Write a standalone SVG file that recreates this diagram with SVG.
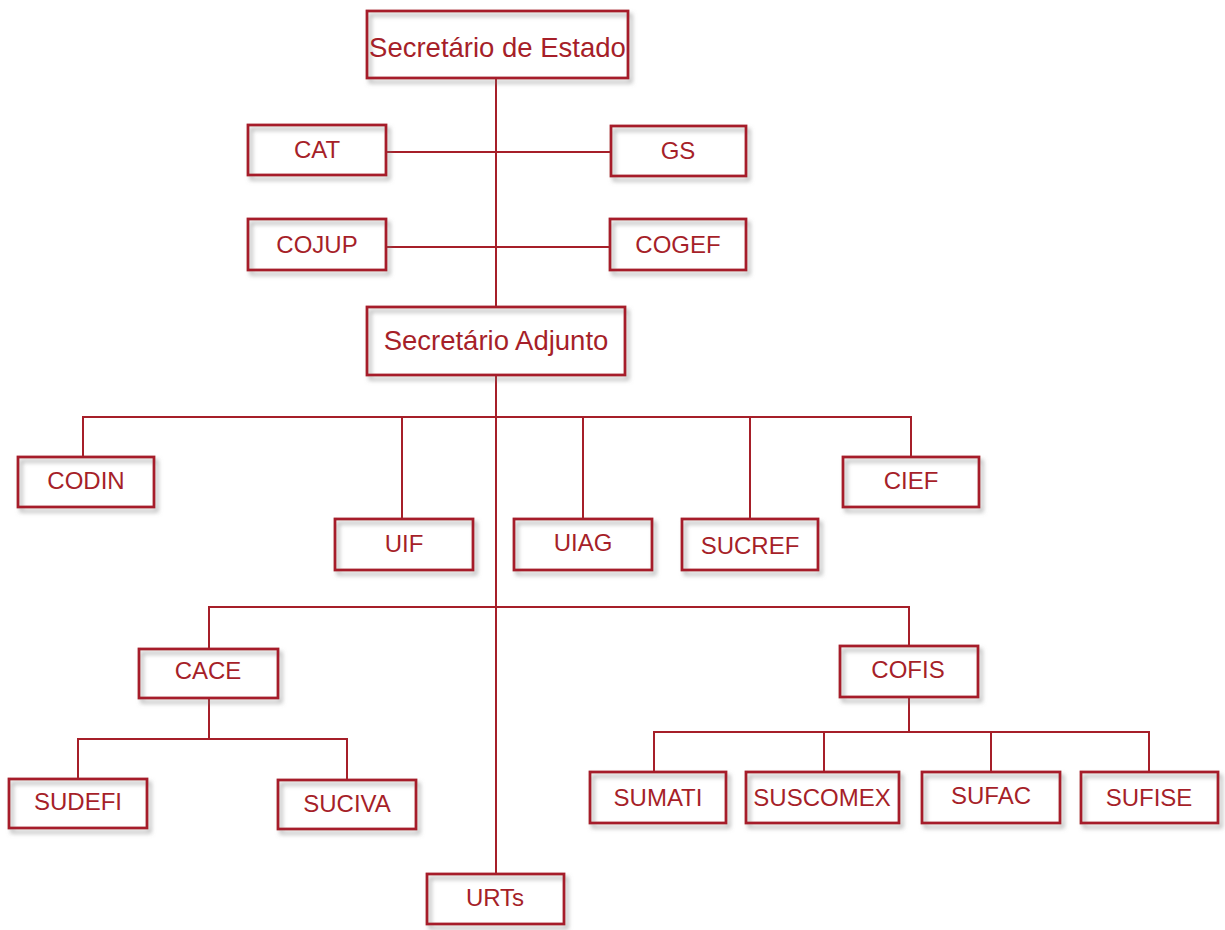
<svg xmlns="http://www.w3.org/2000/svg" width="1225" height="930" viewBox="0 0 1225 930">
<defs>
<filter id="sh" x="-10%" y="-20%" width="125%" height="150%">
<feDropShadow dx="3" dy="4" stdDeviation="2.2" flood-color="#777" flood-opacity="0.55"/>
</filter>
</defs>
<style>
.bg{fill:#fff;stroke:none}
.bx{fill:none;stroke:#a61f29;stroke-width:2.8;filter:url(#sh)}
.t{font-family:"Liberation Sans",Arial,sans-serif;font-size:24px;fill:#a61f29;text-anchor:middle}
.tb{font-size:27.5px}
.c{fill:none;stroke:#a61f29;stroke-width:2}
</style>
<rect width="1225" height="930" fill="#fff"/>
<g id="connectors">
<path class="c" d="M496 78V874"/>
<path class="c" d="M386 152H611M386 247H610"/>
<path class="c" d="M83 457V417H911V457M402 417V519M583 417V519M750 417V519"/>
<path class="c" d="M209 649V607H909V646"/>
<path class="c" d="M209 698V739M78 779V739H347V780"/>
<path class="c" d="M909 697V732M654 772V732H1149V772M824 732V772M991 732V772"/>
</g>
<g id="n-sde"><rect class="bg" x="367" y="11" width="261" height="67"/><rect class="bx" x="367" y="11" width="261" height="67"/><text class="t tb" x="497.5" y="56.5">Secretário de Estado</text></g>
<g id="n-cat"><rect class="bg" x="248" y="125" width="138" height="50"/><rect class="bx" x="248" y="125" width="138" height="50"/><text class="t" x="317" y="158">CAT</text></g>
<g id="n-gs"><rect class="bg" x="611" y="126" width="135" height="50"/><rect class="bx" x="611" y="126" width="135" height="50"/><text class="t" x="678" y="159">GS</text></g>
<g id="n-cojup"><rect class="bg" x="248" y="219" width="138" height="51"/><rect class="bx" x="248" y="219" width="138" height="51"/><text class="t" x="317" y="252.5">COJUP</text></g>
<g id="n-cogef"><rect class="bg" x="610" y="219" width="136" height="51"/><rect class="bx" x="610" y="219" width="136" height="51"/><text class="t" x="678" y="252.5">COGEF</text></g>
<g id="n-sa"><rect class="bg" x="367" y="307" width="258" height="68"/><rect class="bx" x="367" y="307" width="258" height="68"/><text class="t tb" x="496" y="350">Secretário Adjunto</text></g>
<g id="n-codin"><rect class="bg" x="18" y="457" width="136" height="50"/><rect class="bx" x="18" y="457" width="136" height="50"/><text class="t" x="86" y="489">CODIN</text></g>
<g id="n-cief"><rect class="bg" x="843" y="457" width="136" height="50"/><rect class="bx" x="843" y="457" width="136" height="50"/><text class="t" x="911" y="489">CIEF</text></g>
<g id="n-uif"><rect class="bg" x="335" y="519" width="138" height="51"/><rect class="bx" x="335" y="519" width="138" height="51"/><text class="t" x="404" y="552">UIF</text></g>
<g id="n-uiag"><rect class="bg" x="514" y="519" width="138" height="51"/><rect class="bx" x="514" y="519" width="138" height="51"/><text class="t" x="583" y="551">UIAG</text></g>
<g id="n-sucref"><rect class="bg" x="682" y="519" width="136" height="51"/><rect class="bx" x="682" y="519" width="136" height="51"/><text class="t" x="750" y="554">SUCREF</text></g>
<g id="n-cace"><rect class="bg" x="139" y="649" width="139" height="49"/><rect class="bx" x="139" y="649" width="139" height="49"/><text class="t" x="208" y="679">CACE</text></g>
<g id="n-cofis"><rect class="bg" x="840" y="646" width="138" height="51"/><rect class="bx" x="840" y="646" width="138" height="51"/><text class="t" x="908" y="678">COFIS</text></g>
<g id="n-sudefi"><rect class="bg" x="9" y="779" width="138" height="49"/><rect class="bx" x="9" y="779" width="138" height="49"/><text class="t" x="78" y="810">SUDEFI</text></g>
<g id="n-suciva"><rect class="bg" x="278" y="780" width="138" height="49"/><rect class="bx" x="278" y="780" width="138" height="49"/><text class="t" x="347" y="812">SUCIVA</text></g>
<g id="n-sumati"><rect class="bg" x="590" y="772" width="136" height="51"/><rect class="bx" x="590" y="772" width="136" height="51"/><text class="t" x="658" y="806">SUMATI</text></g>
<g id="n-suscomex"><rect class="bg" x="746" y="772" width="153" height="51"/><rect class="bx" x="746" y="772" width="153" height="51"/><text class="t" x="822" y="806">SUSCOMEX</text></g>
<g id="n-sufac"><rect class="bg" x="922" y="772" width="138" height="51"/><rect class="bx" x="922" y="772" width="138" height="51"/><text class="t" x="991" y="804">SUFAC</text></g>
<g id="n-sufise"><rect class="bg" x="1081" y="772" width="137" height="51"/><rect class="bx" x="1081" y="772" width="137" height="51"/><text class="t" x="1149" y="806">SUFISE</text></g>
<g id="n-urts"><rect class="bg" x="427" y="874" width="137" height="50"/><rect class="bx" x="427" y="874" width="137" height="50"/><text class="t" x="495" y="906">URTs</text></g>
</svg>
